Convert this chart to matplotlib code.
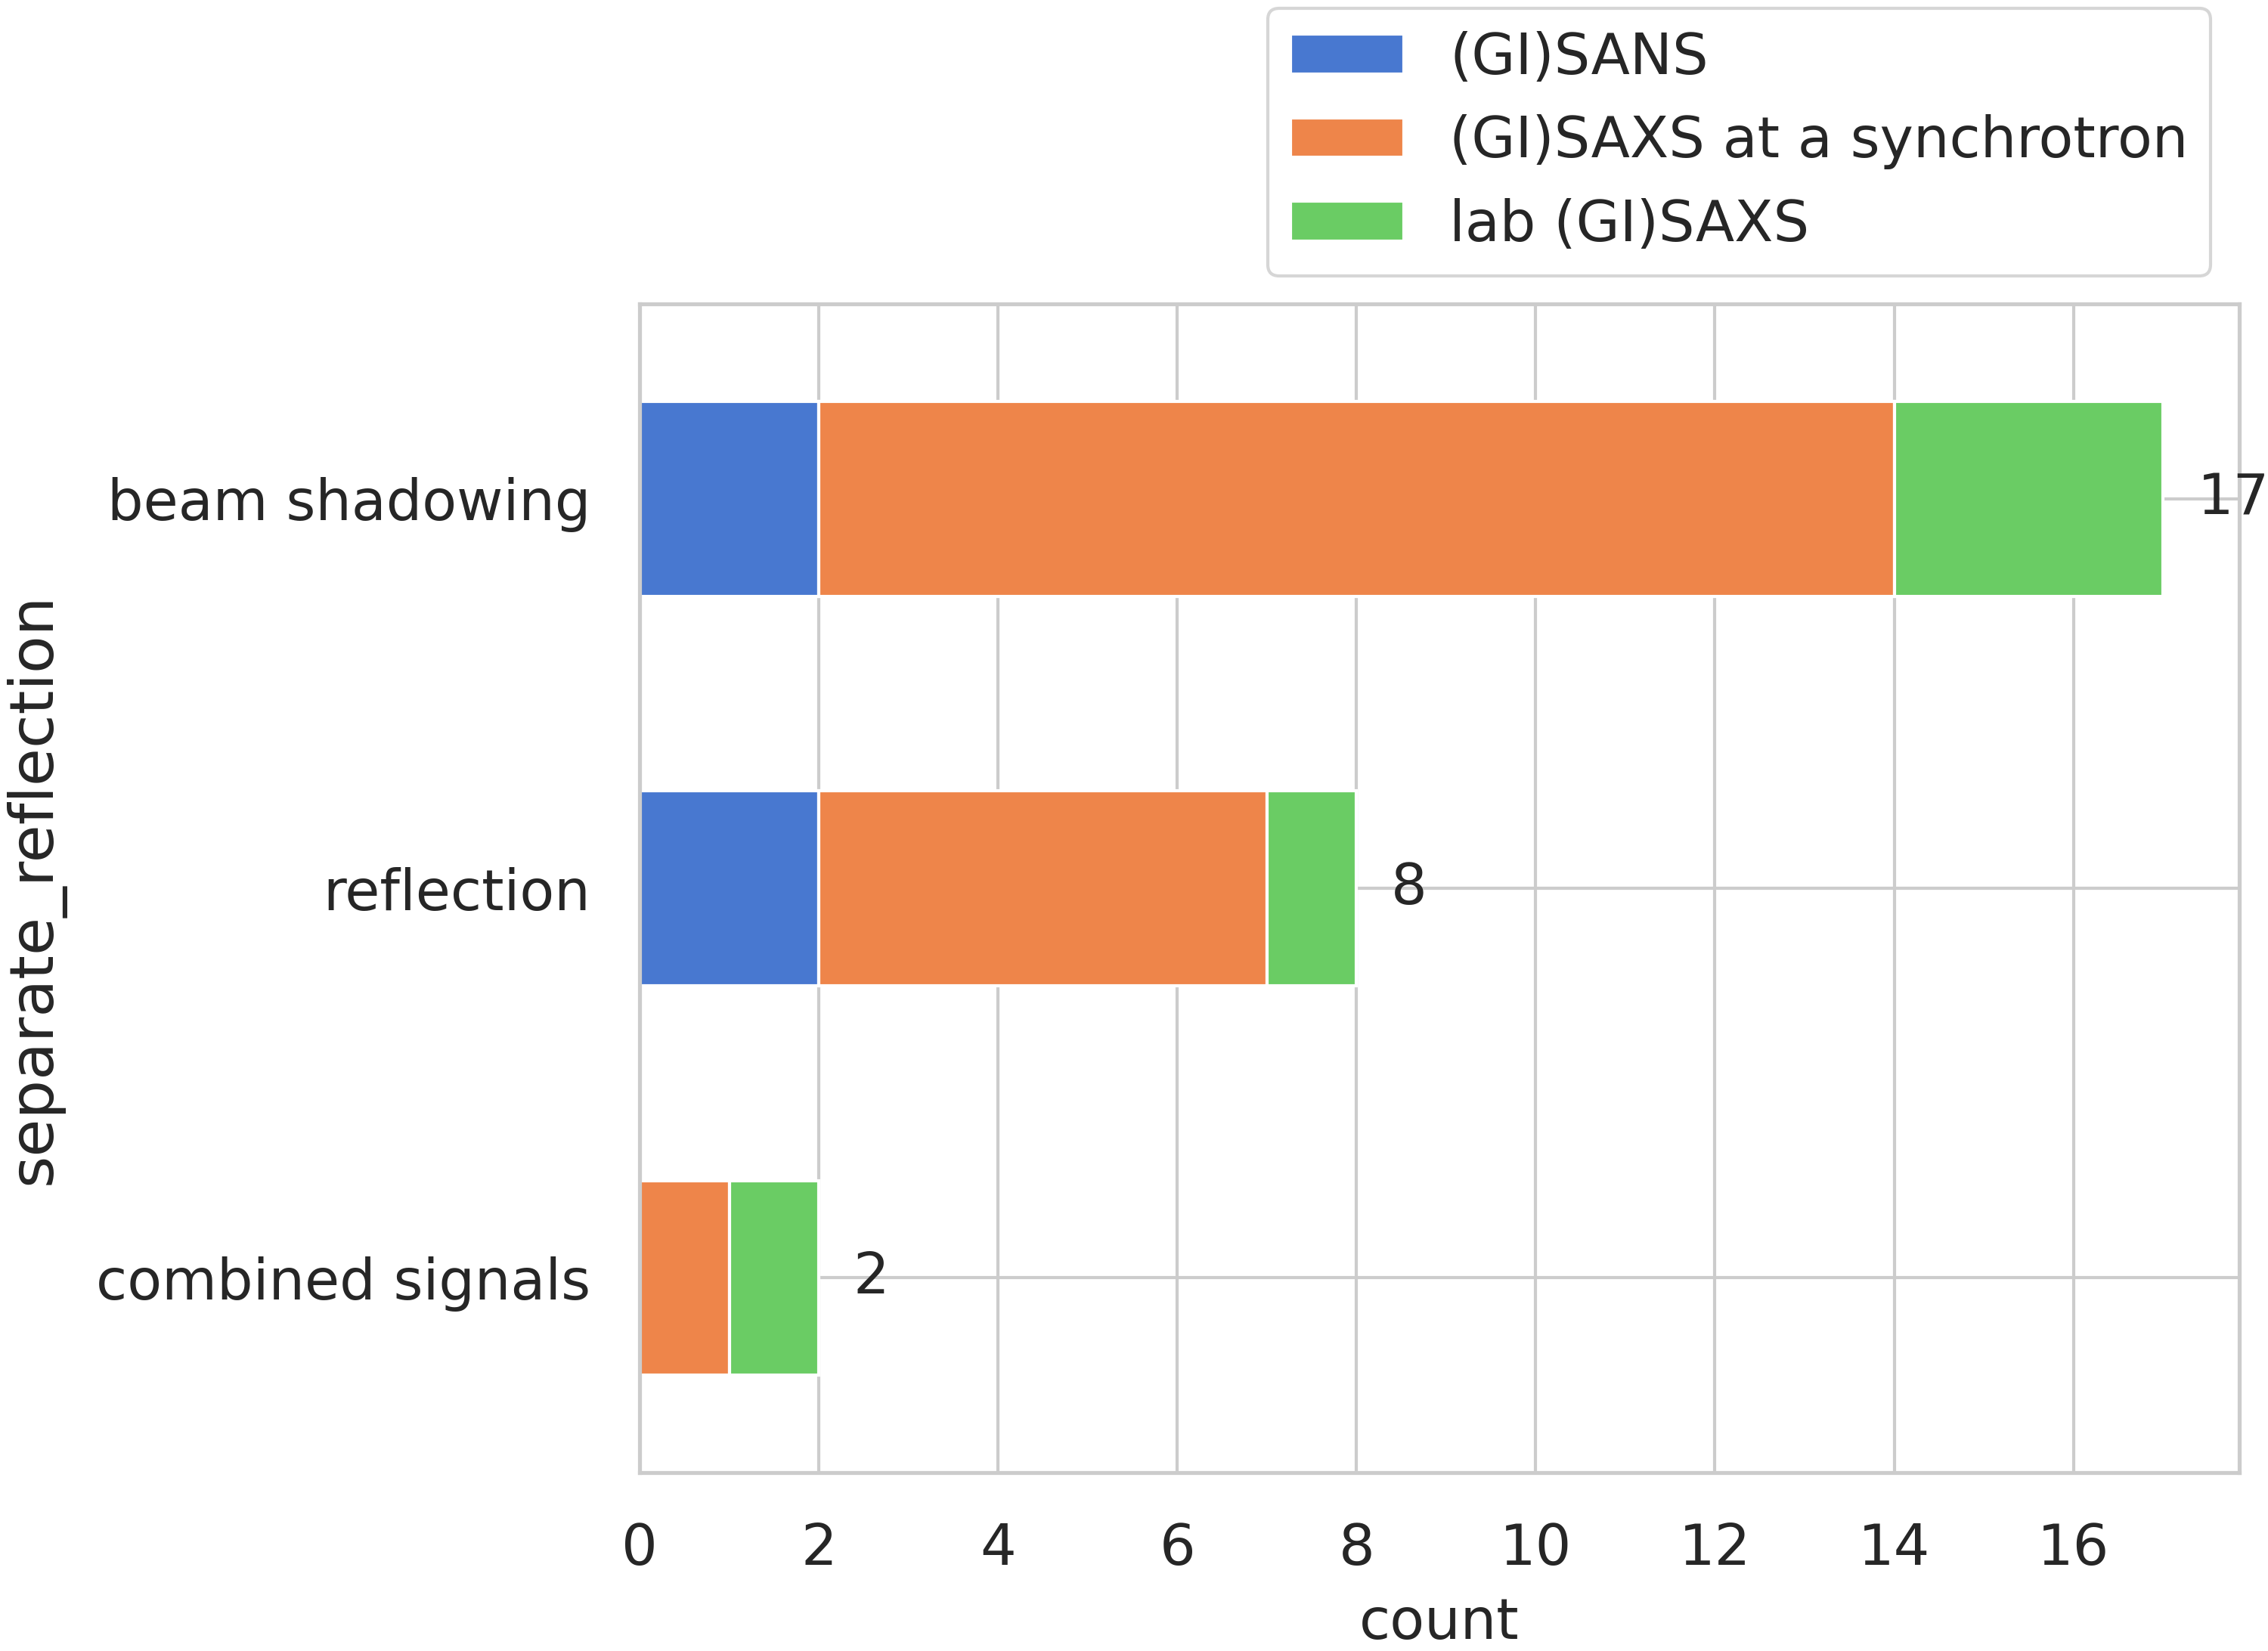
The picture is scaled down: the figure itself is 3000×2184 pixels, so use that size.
import matplotlib
matplotlib.use('Agg')
import matplotlib.pyplot as plt
import pandas as pd
import seaborn as sns

# counts per category
categories = ['combined signals', 'reflection', 'beam shadowing']
gisans = [0, 2, 2]
saxs_sync = [1, 5, 12]
lab_saxs = [1, 1, 3]
series_names = ['(GI)SANS', '(GI)SAXS at a synchrotron', 'lab (GI)SAXS']

sns.set_theme(style='whitegrid', palette='muted')
plt.rcParams['font.family'] = ['DejaVu Sans']

df = pd.DataFrame({series_names[0]: gisans,
                   series_names[1]: saxs_sync,
                   series_names[2]: lab_saxs}, index=categories)

fig = plt.figure(figsize=(10, 7.28), dpi=300)
ax = fig.add_axes([0.282, 0.108, 0.7053, 0.7079])

df.plot(kind='barh', stacked=True, ax=ax, width=0.5,
        edgecolor='white', linewidth=1.0)

ax.bar_label(ax.containers[-1], padding=11, fontsize=18, color='.15')

ax.set_xlabel('count', fontsize=18, color='.15', labelpad=6)
ax.set_ylabel('separate_reflection', fontsize=19.5, color='.15', labelpad=10)
ax.tick_params(axis='y', labelsize=18, pad=9.5, colors='.15')
ax.tick_params(axis='x', labelsize=18, pad=9.5, colors='.15')

ax.legend(loc='lower right', bbox_to_anchor=(1, 1), fontsize=18)

fig.savefig('out.png', dpi=300)
